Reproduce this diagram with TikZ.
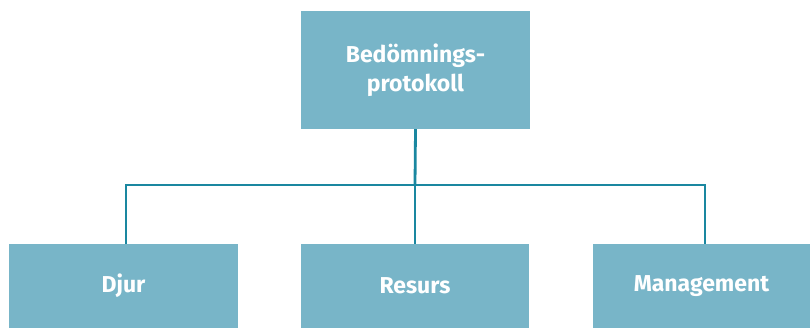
\documentclass[tikz,border=0pt]{standalone}
\usepackage{fontspec}
\setmainfont{Fira Sans}
\definecolor{boxfill}{HTML}{78B5C8}
\definecolor{linecol}{HTML}{1A87A0}
\begin{document}
\begin{tikzpicture}[x=1pt,y=-1pt,
  box/.style={fill=boxfill,draw=none,inner sep=0pt,text=white,align=center,
    font=\fontsize{23}{29}\selectfont\bfseries},
  conn/.style={draw=linecol,line width=2.8pt}]
\path[use as bounding box] (0,0) rectangle (810,328);
\node[box,minimum width=229pt,minimum height=118pt] (top) at (415.5,70) {Bedömnings-\\protokoll};
\node[box,minimum width=229pt,minimum height=84pt] (djur) at (123.5,286) {Djur};
\node[box,minimum width=228pt,minimum height=84pt] (resurs) at (415,286) {Resurs};
\node[box,minimum width=217pt,minimum height=84pt] (man) at (701.5,286) {Management};
\coordinate (mid) at (415,185);
\draw[conn] (top.south) -- (mid);
\draw[conn] ([xshift=2.5pt]djur.north) |- (mid) -| ([xshift=3.5pt]man.north);
\draw[conn] (mid) -- (resurs.north);
\end{tikzpicture}
\end{document}
